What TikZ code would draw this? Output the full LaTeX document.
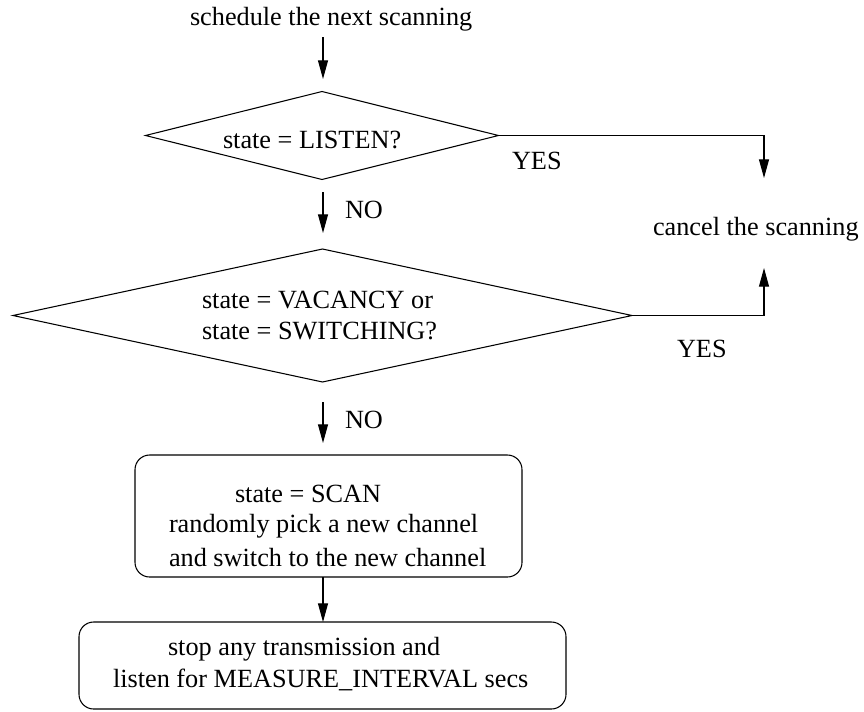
\documentclass[tikz,border=0pt]{standalone}
\usepackage{fontspec}
\setmainfont{Liberation Serif}
\usetikzlibrary{shapes.geometric,arrows.meta}
\begin{document}
\begin{tikzpicture}[x=0.75pt,y=-0.75pt,
  lbl/.style={inner sep=0pt,outer sep=0pt,anchor=base west,font=\fontsize{19.7pt}{24pt}\selectfont},
  dia/.style={draw,diamond,inner sep=0pt,outer sep=0pt,line width=0.8pt},
  rbox/.style={draw,rectangle,rounded corners=11pt,inner sep=0pt,outer sep=0pt,line width=0.8pt},
  arr/.style={-{Triangle[length=14pt,width=7.5pt]},line width=0.8pt},
  ln/.style={line width=0.8pt}]
\useasboundingbox (0,0) rectangle (864,711);
% texts
\node[lbl] (t0) at (190,25) {schedule the next scanning};
\node[dia,minimum width=264.75pt,minimum height=66pt,aspect=4.01] (d1) at (322,135.5) {};
\node[lbl] (t1) at (223,148) {state = LISTEN?};
\node[lbl] (y1) at (512,169) {YES};
\node[lbl] (cn) at (653,235) {cancel the scanning};
\node[lbl] (no1) at (345,218) {NO};
\node[dia,minimum width=464.25pt,minimum height=99.75pt,aspect=4.65] (d2) at (322.5,315.5) {};
\node[lbl] (t2a) at (202,308) {state = VACANCY or};
\node[lbl] (t2b) at (202,339) {state = SWITCHING?};
\node[lbl] (y2) at (677,357) {YES};
\node[lbl] (no2) at (345,428) {NO};
\node[rbox,minimum width=290.25pt,minimum height=91.5pt] (b1) at (328.5,516) {};
\node[lbl] (b1a) at (235,502) {state = SCAN};
\node[lbl] (b1b) at (169,532) {randomly pick a new channel};
\node[lbl] (b1c) at (169,566) {and switch to the new channel};
\node[rbox,minimum width=365.25pt,minimum height=65.25pt] (b2) at (322.5,665.5) {};
\node[lbl] (b2a) at (168,655) {stop any transmission and};
\node[lbl] (b2b) at (113,687) {listen for MEASURE\_INTERVAL secs};
% connector ends
\coordinate (a0s) at (323,37);
\coordinate (a0e) at (323,79);
\coordinate (a1s) at (323,192);
\coordinate (a1e) at (323,233);
\coordinate (a2s) at (323,402);
\coordinate (a2e) at (323,443);
\coordinate (c1) at (764,135.5);
\coordinate (c1e) at (764,178);
\coordinate (c2) at (764,315.5);
\coordinate (c2e) at (764,268);
% connectors
\draw[arr] (a0s) -- (a0e);
\draw[arr] (a1s) -- (a1e);
\draw[arr] (a2s) -- (a2e);
\draw[arr] (b1.south -| 323,0) -- (b2.north -| 323,0);
\draw[arr] (d1.east) -- (c1) -- (c1e);
\draw[arr] (d2.east) -- (c2) -- (c2e);
\end{tikzpicture}
\end{document}
